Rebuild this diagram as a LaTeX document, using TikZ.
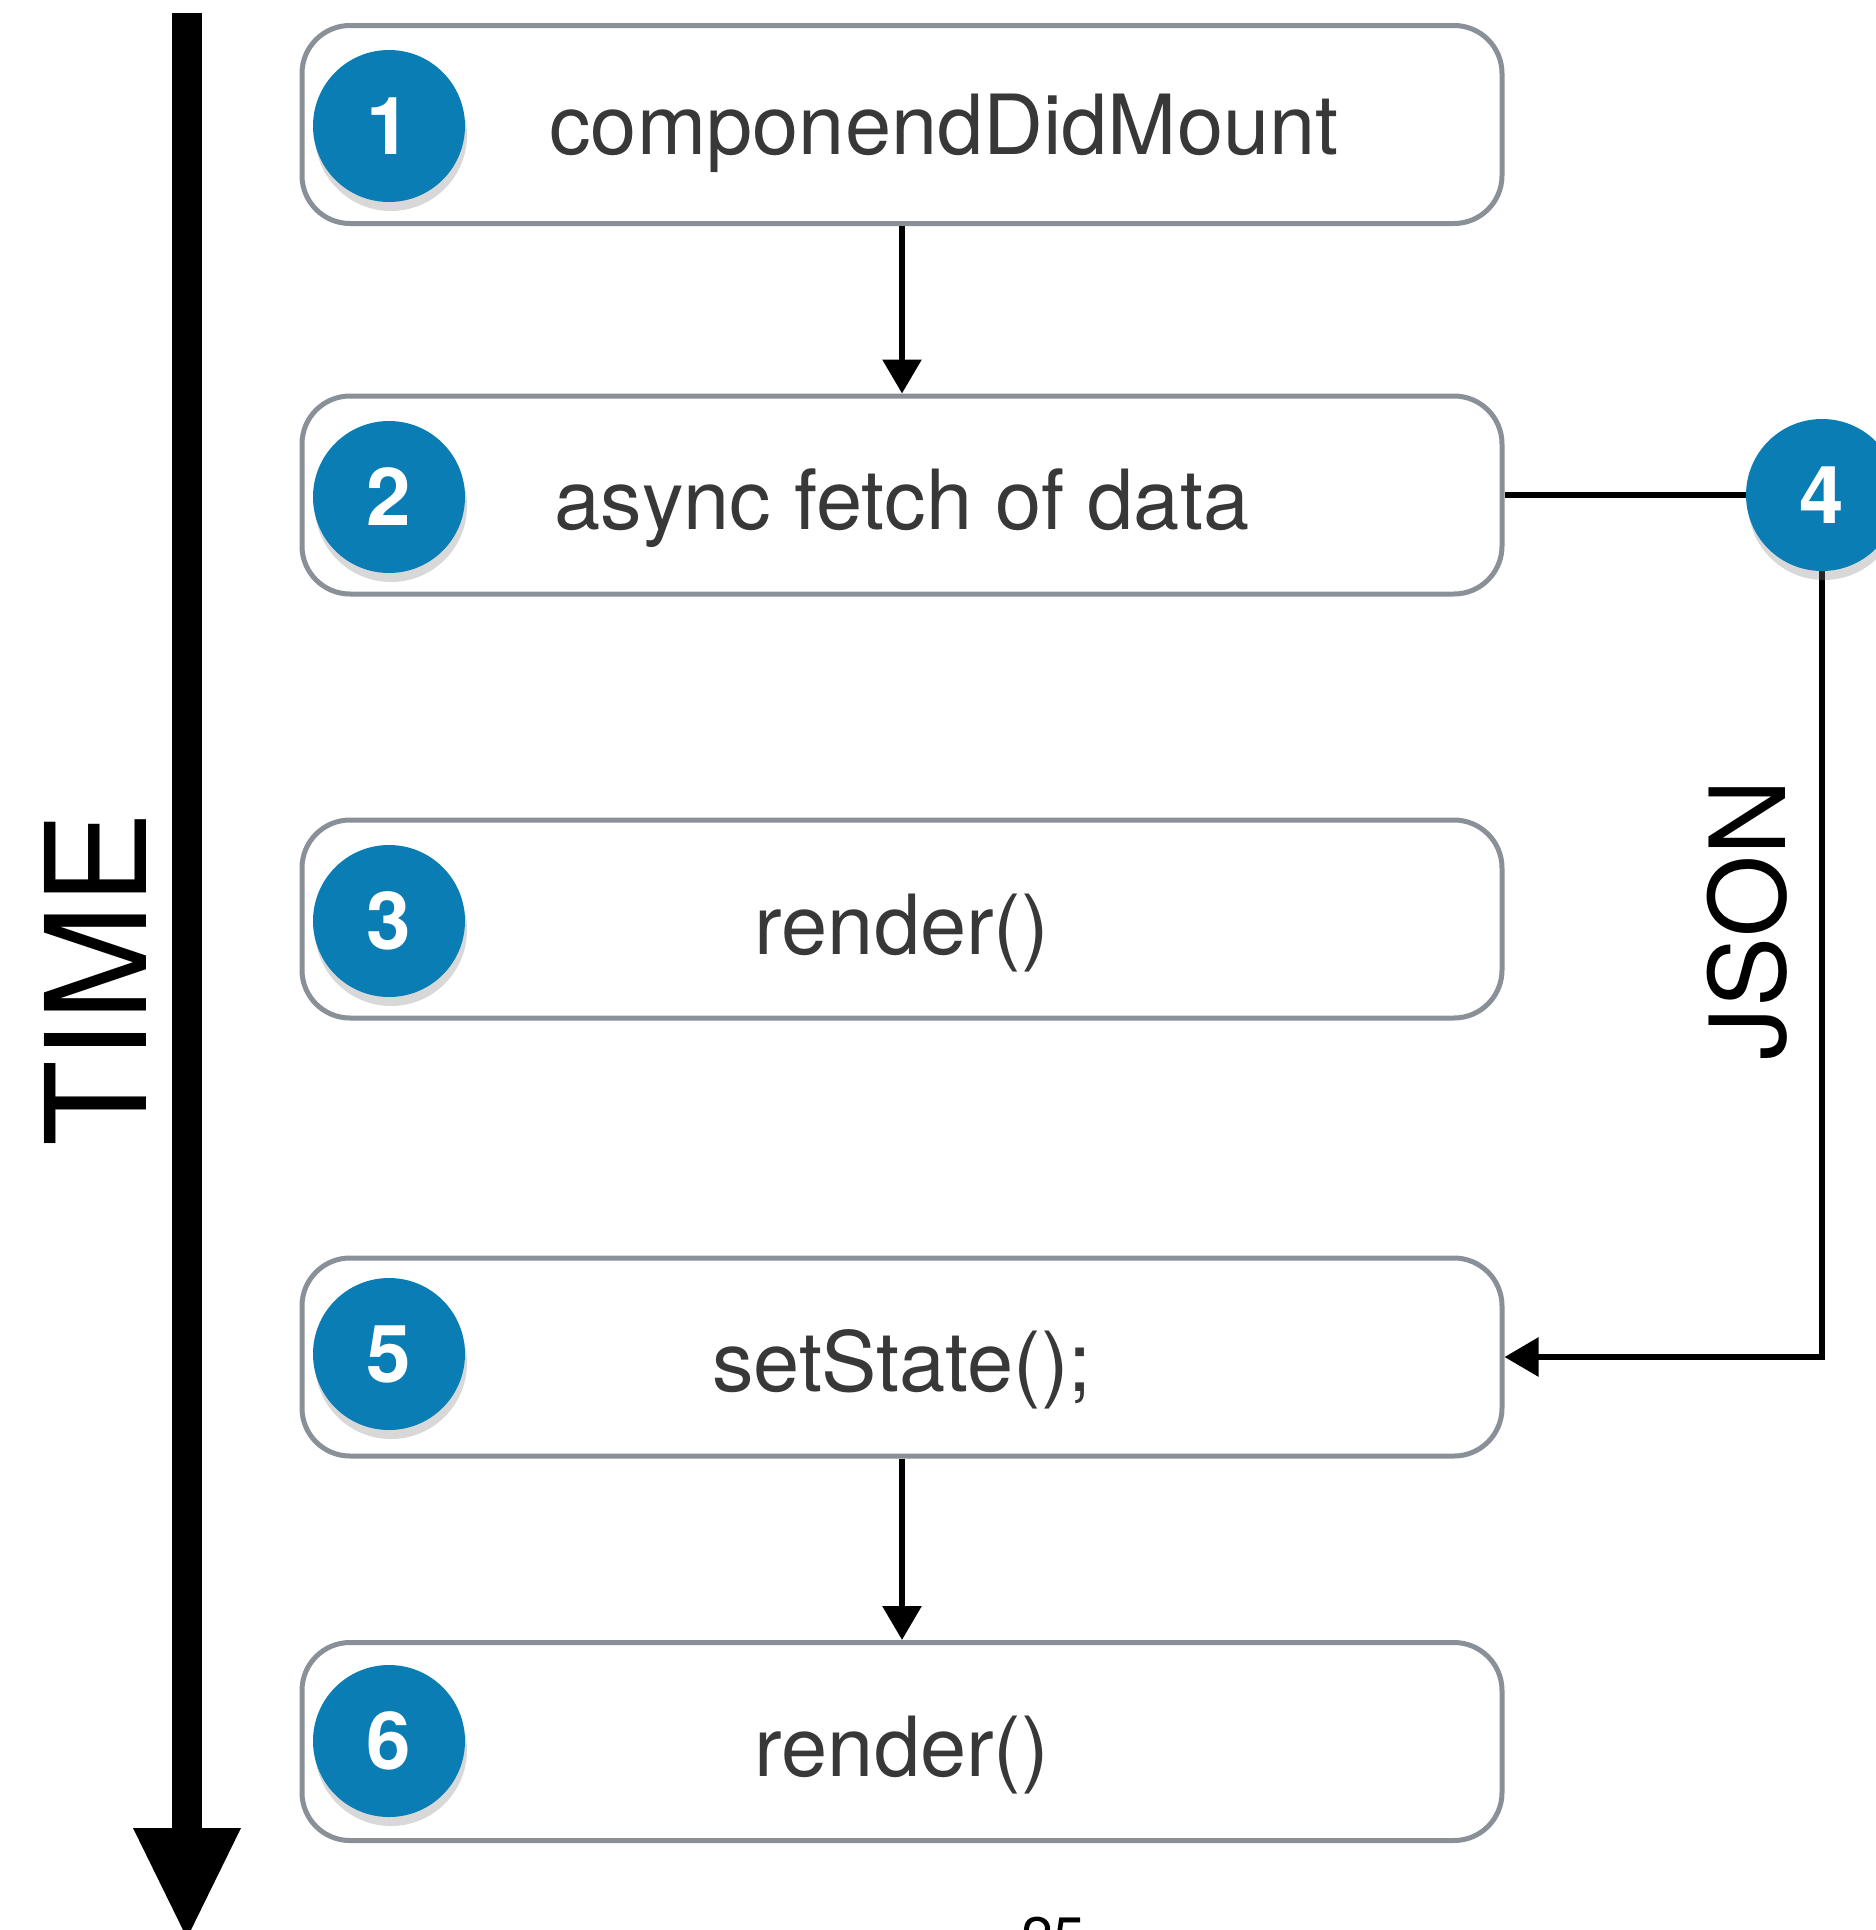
\documentclass[tikz,border=0pt]{standalone}
\usepackage{fontspec}
\setmainfont{TeX Gyre Heros}
\usetikzlibrary{arrows.meta,shadows}
\definecolor{boxgray}{HTML}{8A9098}
\definecolor{numblue}{HTML}{0A7DB5}
\definecolor{txtgray}{HTML}{383838}
\begin{document}
\begin{tikzpicture}[x=1pt,y=-1pt,
  stepbox/.style={draw=boxgray, line width=5pt, rounded corners=48pt, fill=white,
    minimum width=1200pt, minimum height=198pt, inner sep=0pt},
  numdot/.style={circle, fill=numblue, minimum size=152pt, inner sep=0pt, text=white,
    font=\fontsize{80}{80}\selectfont\bfseries,
    drop shadow={shadow xshift=2pt, shadow yshift=-9pt, opacity=0.3}},
  lbl/.style={anchor=base, text=txtgray, font=\fontsize{83}{83}\selectfont, inner sep=0pt},
  conn/.style={line width=6pt, -{Triangle[length=34pt,width=38pt]}},
  plainline/.style={line width=6pt},
  ]
\useasboundingbox (0,0) rectangle (1876,1930);
\fill[white] (0,0) rectangle (1876,1930);

% time axis
\fill[black] (172,13) rectangle (202,1832);
\fill[black] (133,1828) -- (241,1828) -- (187,1938) -- cycle;
\node[rotate=90, font=\fontsize{140}{140}\selectfont, inner sep=0pt] (time) at (95,979) {TIME};

% boxes
\node[stepbox] (b1) at (902,124.5) {};
\node[stepbox] (b2) at (902,495) {};
\node[stepbox] (b3) at (902,919) {};
\node[stepbox] (b5) at (902,1357) {};
\node[stepbox] (b6) at (902,1741.5) {};

% labels
\node[lbl] (t1) at (944,154) {componendDidMount};
\node[lbl] (t2) at (902,529) {async fetch of data};
\node[lbl] (t3) at (902,954) {render()};
\node[lbl] (t5) at (902,1391) {setState();};
\node[lbl] (t6) at (902,1776) {render()};

% number circles
\node[numdot] (n1) at (389,126) {1};
\node[numdot] (n2) at (389,497) {2};
\node[numdot] (n3) at (389,921) {3};
\node[numdot] (n5) at (389,1354) {5};
\node[numdot] (n6) at (389,1741) {6};

% connectors
\draw[conn] (b1.south) -- (b2.north);
\draw[conn] (b5.south) -- (b6.north);
\coordinate (c4) at (1822,495);
\draw[plainline] (b2.east) -- (c4);
\draw[conn] (c4) -- (c4 |- b5.east) -- (b5.east);
\node[numdot] (n4) at (c4) {4};

\node[rotate=90, font=\fontsize{105}{105}\selectfont, inner sep=0pt] (json) at (1747,920) {JSON};

% page number (cut off at the lower edge, as in the reference)
\node[font=\fontsize{57}{57}\selectfont, anchor=north, inner sep=0pt] (pg) at (1053,1917) {25};
\end{tikzpicture}
\end{document}
